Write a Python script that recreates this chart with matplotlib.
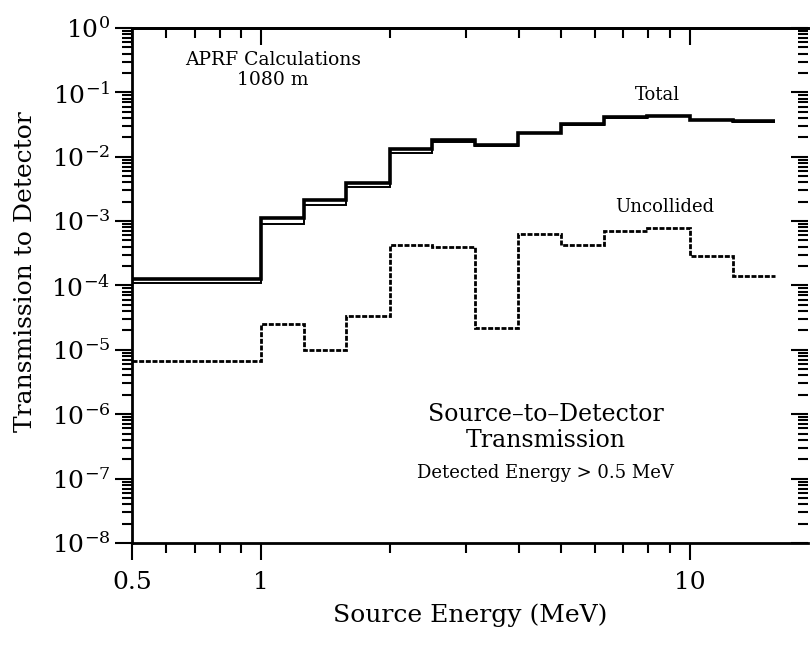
import numpy as np
import matplotlib
matplotlib.use("Agg")
import matplotlib.pyplot as plt
from matplotlib.ticker import FixedLocator, LogLocator, NullFormatter, FixedFormatter, LogFormatterMathtext

plt.rcParams['font.family'] = ['DejaVu Serif']
plt.rcParams['mathtext.fontset'] = 'dejavuserif'

# energy group edges (MeV)
edges = [0.5, 1.0, 1.26, 1.58, 2.0, 2.51, 3.16, 3.98, 5.01, 6.31, 7.94, 10.0, 12.6, 15.8]

# total transmission, two nearly coincident curves
total_hi = [1.28e-4, 1.1e-3, 2.15e-3, 3.9e-3, 1.3e-2, 1.8e-2, 1.52e-2, 2.37e-2, 3.2e-2, 4.1e-2, 4.35e-2, 3.75e-2, 3.55e-2]
total_lo = [1.1e-4, 9.0e-4, 1.75e-3, 3.35e-3, 1.16e-2, 1.72e-2, 1.49e-2, 2.3e-2, 3.15e-2, 4.05e-2, 4.3e-2, 3.7e-2, 3.5e-2]

# uncollided transmission
uncollided = [6.7e-6, 2.55e-5, 9.8e-6, 3.3e-5, 4.3e-4, 4.0e-4, 2.2e-5, 6.3e-4, 4.3e-4, 7.1e-4, 7.8e-4, 2.9e-4, 1.4e-4]

x_major = [0.5, 1, 10]
x_major_labels = ["0.5", "1", "10"]

fig = plt.figure(figsize=(8.1, 6.51), dpi=100)
ax = fig.add_axes([0.163, 0.166, 0.8346, 0.791])

ax.stairs(total_hi, edges, baseline=None, color='black', lw=2.6)
ax.stairs(total_lo, edges, baseline=None, color='black', lw=1.4)
ax.stairs(uncollided, edges, baseline=None, color='black', lw=2.0, linestyle=(0, (1.8, 0.6)))

ax.set_xscale('log')
ax.set_yscale('log')
ax.set_xlim(0.5, 18.9)
ax.set_ylim(1e-8, 1)

ax.xaxis.set_major_locator(FixedLocator(x_major))
ax.xaxis.set_major_formatter(FixedFormatter(x_major_labels))
ax.xaxis.set_minor_locator(LogLocator(base=10, subs=np.arange(2, 10), numticks=20))
ax.xaxis.set_minor_formatter(NullFormatter())
ax.yaxis.set_major_locator(LogLocator(base=10, numticks=20))
ax.yaxis.set_major_formatter(LogFormatterMathtext())
ax.yaxis.set_minor_locator(LogLocator(base=10, subs=np.arange(2, 10), numticks=20))
ax.yaxis.set_minor_formatter(NullFormatter())

ax.tick_params(which='both', direction='out', top=False, right=False, width=1.5, labelsize=18)
ax.tick_params(which='major', length=12)
ax.tick_params(which='minor', length=7)
ax.tick_params(axis='x', pad=8)

# top and right ticks point into the plot
top = ax.secondary_xaxis('top')
top.xaxis.set_major_locator(FixedLocator(x_major))
top.xaxis.set_minor_locator(LogLocator(base=10, subs=np.arange(2, 10), numticks=20))
top.tick_params(which='both', direction='in', labeltop=False, width=1.5)
top.tick_params(which='major', length=12)
top.tick_params(which='minor', length=7)

right = ax.secondary_yaxis('right')
right.yaxis.set_major_locator(LogLocator(base=10, numticks=20))
right.yaxis.set_minor_locator(LogLocator(base=10, subs=np.arange(2, 10), numticks=20))
right.tick_params(which='both', direction='in', labelright=False, width=1.5)
right.tick_params(which='major', length=12)
right.tick_params(which='minor', length=7)
right.spines['right'].set_visible(False)

for s in ['left', 'bottom', 'top']:
    ax.spines[s].set_linewidth(2)
top.spines['top'].set_linewidth(2)
ax.spines['right'].set_visible(False)

ax.text(0.2086, 0.938, "APRF Calculations", transform=ax.transAxes, ha='center', va='center', fontsize=13.5)
ax.text(0.2086, 0.899, "1080 m", transform=ax.transAxes, ha='center', va='center', fontsize=13.5)
ax.text(0.777, 0.870, "Total", transform=ax.transAxes, ha='center', va='center', fontsize=13)
ax.text(0.788, 0.653, "Uncollided", transform=ax.transAxes, ha='center', va='center', fontsize=13)
ax.text(0.612, 0.250, "Source\u2013to\u2013Detector", transform=ax.transAxes, ha='center', va='center', fontsize=17)
ax.text(0.612, 0.198, "Transmission", transform=ax.transAxes, ha='center', va='center', fontsize=17)
ax.text(0.612, 0.136, "Detected Energy > 0.5 MeV", transform=ax.transAxes, ha='center', va='center', fontsize=13)

fig.text(0.031, 0.582, "Transmission to Detector", rotation=90, ha='center', va='center', fontsize=18)
fig.text(0.580, 0.055, "Source Energy (MeV)", ha='center', va='center', fontsize=18)

fig.savefig("out.png", dpi=100)
